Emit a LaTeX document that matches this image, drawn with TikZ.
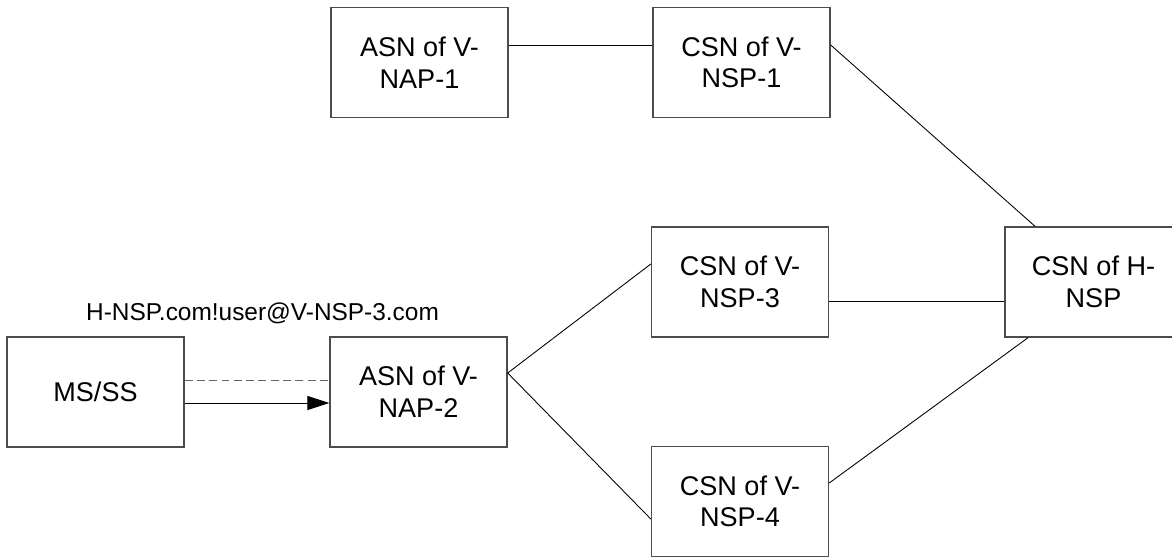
\documentclass[tikz,border=0pt]{standalone}
\usepackage{fontspec}
\setmainfont{Liberation Sans}
\usetikzlibrary{arrows.meta}
\tikzset{
  netbox/.style={draw=black!70, line width=0.8pt, minimum width=3.54cm, minimum height=2.2cm,
    inner sep=0pt, align=center, font=\fontsize{15.4}{18}\selectfont},
  link/.style={draw=black, line width=0.5pt}
}
\begin{document}
\begin{tikzpicture}[x=0.02cm, y=-0.02cm]
  \useasboundingbox (0,0) rectangle (1172,557);
  % boxes
  \node[netbox] (asnA) at (419.5,62.5) {ASN of V-\\NAP-1};
  \node[netbox] (csnA) at (741.5,62.5) {CSN of V-\\NSP-1};
  \node[netbox] (csnC) at (740,282) {CSN of V-\\NSP-3};
  \node[netbox] (hnsp) at (1093.5,282) {CSN of H-\\NSP};
  \node[netbox] (msss) at (95.5,392) {MS/SS};
  \node[netbox] (asnB) at (418.5,392) {ASN of V-\\NAP-2};
  \node[netbox] (csnD) at (740,501.5) {CSN of V-\\NSP-4};
  \node[font=\fontsize{13.9}{17}\selectfont] (nai) at (262.5,313) {H-NSP.com!user@V-NSP-3.com};
  % links
  \draw[link] ([yshift=0.35cm]asnA.east) -- ([yshift=0.35cm]csnA.west);
  \draw[link] ([yshift=0.35cm]csnA.east) -- ([xshift=-1.17cm]hnsp.north);
  \draw[link] ([yshift=-0.38cm]csnC.east) -- ([yshift=-0.38cm]hnsp.west);
  \draw[link] ([yshift=0.38cm]asnB.east) -- ([yshift=0.36cm]csnC.west);
  \draw[link] ([yshift=0.38cm]asnB.east) -- ([yshift=-0.35cm]csnD.west);
  \draw[link] ([yshift=0.37cm]csnD.east) -- ([xshift=-1.31cm]hnsp.south);
  % access
  \draw[link, draw=black!60, dash pattern=on 4.5pt off 2.5pt] ([yshift=0.24cm]msss.east) -- ([yshift=0.24cm]asnB.west);
  \draw[link, -{Triangle[length=12.5pt, width=8pt]}] ([yshift=-0.22cm]msss.east) -- ([yshift=-0.22cm]asnB.west);
\end{tikzpicture}
\end{document}
